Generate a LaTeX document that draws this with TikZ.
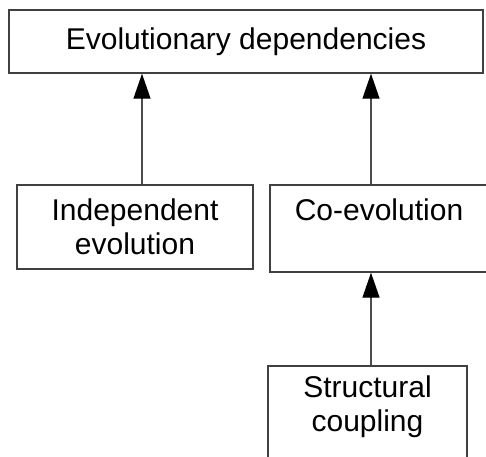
\documentclass[tikz,border=0pt]{standalone}
\usepackage{fontspec}
\setmainfont{Liberation Sans}
\usetikzlibrary{arrows.meta}

\begin{document}
\begin{tikzpicture}[
		  x=1pt, y=-1pt, >={Triangle[length=25pt,width=17pt,color=black]},
		  box/.style={draw=black!75, line width=1.4pt, align=center, inner sep=0pt,
		    font=\fontsize{30}{34}\selectfont},
		  link/.style={->, draw=black!70, line width=1.3pt}
		]
		\useasboundingbox (0,0) rectangle (486,456);
		\clip (0,0) rectangle (486,456);
		\node[box, minimum width=474pt, minimum height=63pt] (evo_dep) at (246,41.5) {Evolutionary dependencies};
		\node[box, minimum width=236pt, minimum height=84pt] (indep) at (135,227) {Independent\\evolution};
		\node[box, minimum width=218pt, minimum height=87pt] (coevo) at (379,228.5) {Co-evolution\\[-6pt]\strut};
		\node[box, minimum width=199pt, minimum height=114pt] (struct) at (367.5,423) {Structural\\coupling\\[-6pt]\strut};
		
		\draw[link] ([xshift=7pt]indep.north) -- ([xshift=7pt]indep.north |- evo_dep.south);
		\draw[link] ([xshift=-8pt]coevo.north) -- ([xshift=-8pt]coevo.north |- evo_dep.south);
		\draw[link] ([xshift=3.5pt]struct.north) -- ([xshift=3.5pt]struct.north |- coevo.south);
		\end{tikzpicture}
\end{document}
